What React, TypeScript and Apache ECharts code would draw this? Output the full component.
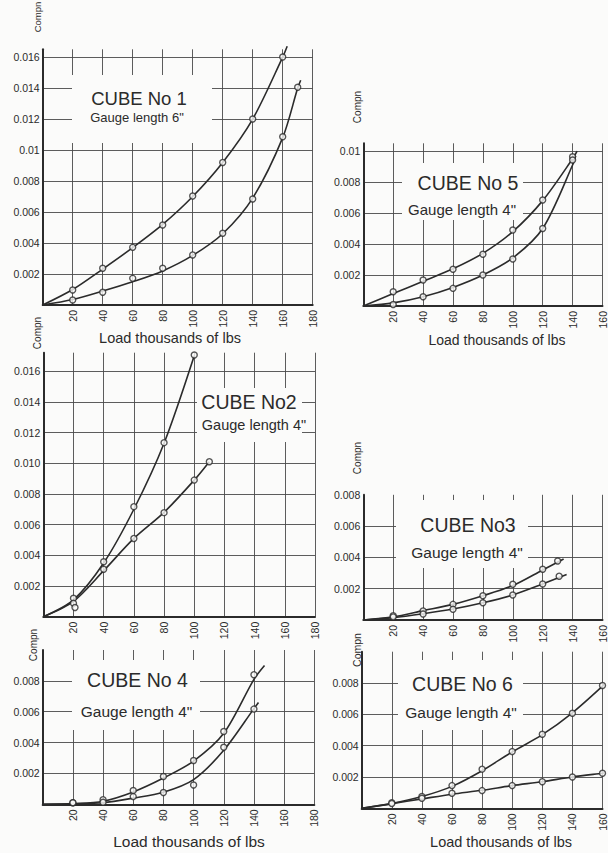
import React, { useEffect, useRef } from "react";
import * as echarts from "echarts";

// ---------- DATA (load in thousands of lbs, compression in inches) ----------
const xTickLabels = ["", "20", "40", "60", "80", "100", "120", "140", "160", "180"];

const cube1YLabels = ["", "0.002", "0.004", "0.006", "0.008", "0.01", "0.012", "0.014", "0.016"];
const cube2YLabels = ["", "0.002", "0.004", "0.006", "0.008", "0.010", "0.012", "0.014", "0.016"];
const cube5YLabels = ["", "0.002", "0.004", "0.006", "0.008", "0.01"];
const cube3YLabels = ["", "0.002", "0.004", "0.006", "0.008"];
const cube4YLabels = ["", "0.002", "0.004", "0.006", "0.008", ""];
const cube6YLabels = ["", "0.002", "0.004", "0.006", "0.008", ""];

// Cube No 1, gauge length 6"
const cube1UpperPts = [[20, 0.00097], [40, 0.00237], [60, 0.00372], [80, 0.00516], [100, 0.00703], [120, 0.0092], [140, 0.012], [160, 0.016]];
const cube1UpperCurve = [[0, 0], [20, 0.001], [40, 0.00232], [60, 0.0037], [80, 0.0052], [100, 0.007], [120, 0.0092], [140, 0.012], [160, 0.016], [163, 0.0167]];
const cube1LowerPts = [[20, 0.00032], [40, 0.00082], [60, 0.00172], [80, 0.00237], [100, 0.00323], [120, 0.00463], [140, 0.00684], [160, 0.01086], [170, 0.01405]];
const cube1LowerCurve = [[0, 0], [20, 0.00035], [40, 0.0009], [60, 0.0015], [80, 0.0022], [100, 0.0032], [120, 0.0046], [140, 0.0069], [160, 0.0108], [170, 0.014], [172, 0.0145]];

// Cube No 5, gauge length 4"
const cube5UpperPts = [[20, 0.00092], [40, 0.00168], [60, 0.00237], [80, 0.00334], [100, 0.0049], [120, 0.00684], [140, 0.00963]];
const cube5UpperCurve = [[0, 0], [20, 0.0008], [40, 0.0016], [60, 0.0024], [80, 0.0034], [100, 0.0048], [120, 0.0068], [140, 0.0095], [143, 0.01]];
const cube5LowerPts = [[20, 0.0001], [40, 0.0006], [60, 0.00114], [80, 0.002], [100, 0.00303], [120, 0.005], [140, 0.00942]];
const cube5LowerCurve = [[0, 0], [20, 0.0002], [40, 0.0006], [60, 0.0012], [80, 0.002], [100, 0.0031], [120, 0.005], [140, 0.0091], [142, 0.0097]];

// Cube No 2, gauge length 4"
const cube2UpperPts = [[20, 0.0012], [40, 0.00358], [60, 0.00717], [80, 0.01134], [100, 0.01705]];
const cube2UpperCurve = [[0, 0], [20, 0.0011], [40, 0.0035], [60, 0.007], [80, 0.0113], [100, 0.017]];
const cube2LowerPts = [[20, 0.00087], [21, 0.0006], [40, 0.00309], [60, 0.0051], [80, 0.00678], [100, 0.0089], [110, 0.0101]];
const cube2LowerCurve = [[0, 0], [20, 0.001], [40, 0.003], [60, 0.0051], [80, 0.0068], [100, 0.0089], [110, 0.0101]];

// Cube No 3, gauge length 4"
const cube3UpperPts = [[20, 0.00028], [40, 0.00058], [60, 0.001], [80, 0.00155], [100, 0.00228], [120, 0.00324], [130, 0.00377]];
const cube3UpperCurve = [[0, 0], [20, 0.0002], [40, 0.0006], [60, 0.001], [80, 0.00155], [100, 0.0022], [120, 0.0032], [134, 0.0039]];
const cube3LowerPts = [[20, 0.0002], [40, 0.00038], [60, 0.00068], [80, 0.0011], [100, 0.0016], [120, 0.0023], [131, 0.0028]];
const cube3LowerCurve = [[0, 0], [20, 0.00015], [40, 0.0004], [60, 0.0007], [80, 0.0011], [100, 0.0016], [120, 0.0023], [136, 0.0029]];

// Cube No 4, gauge length 4"
const cube4UpperPts = [[20, 0.0001], [40, 0.0003], [60, 0.00089], [80, 0.0018], [100, 0.00284], [120, 0.00472], [140, 0.0084]];
const cube4UpperCurve = [[0, 0], [20, 0.00005], [40, 0.0002], [60, 0.0008], [80, 0.0017], [100, 0.0028], [120, 0.0046], [140, 0.0081], [147, 0.009]];
const cube4LowerPts = [[20, 0.0001], [40, 0.00013], [60, 0.0005], [80, 0.00076], [100, 0.00125], [120, 0.0037], [140, 0.00617]];
const cube4LowerCurve = [[0, 0], [20, 0.00003], [40, 0.0001], [60, 0.0004], [80, 0.00078], [100, 0.0016], [120, 0.0035], [140, 0.0062], [143, 0.0066]];

// Cube No 6, gauge length 4"
const cube6UpperPts = [[20, 0.00036], [40, 0.00075], [60, 0.00145], [80, 0.0025], [100, 0.00362], [120, 0.00473], [140, 0.00607], [160, 0.00784]];
const cube6UpperCurve = [[0, 0], [20, 0.0003], [40, 0.00075], [60, 0.0014], [80, 0.0024], [100, 0.0036], [120, 0.0047], [140, 0.0061], [160, 0.0078], [165, 0.0083]];
const cube6LowerPts = [[20, 0.0003], [40, 0.00064], [60, 0.00096], [80, 0.00113], [100, 0.00145], [120, 0.0017], [140, 0.002], [160, 0.00224]];
const cube6LowerCurve = [[0, 0], [20, 0.0003], [40, 0.0006], [60, 0.0009], [80, 0.00115], [100, 0.00145], [120, 0.0017], [140, 0.002], [160, 0.00224], [165, 0.0023]];

const xTitle = "Load thousands of lbs";
const yTitle = "Compn";

// ---------- STYLE / LAYOUT ----------
const BG = "#fbfbfa";
const INK = "#2b2b2b";
const FONT = "Liberation Sans, Arial, sans-serif";

type Panel = {
  grid: { left: number; top: number; width: number; height: number };
  xMax: number;
  yMax: number;
  yLabels: string[];
  curves: number[][][];
  points: number[][][];
  title: string;
  gauge: string;
  box: [number, number, number, number];
  titlePos: [number, number, number];
  gaugePos: [number, number, number];
  yTitlePos: [number, number, number];
  xTitlePos?: [number, number, number];
};

const panels: Panel[] = [
  {
    grid: { left: 42.7, top: 49.3, width: 270, height: 255.7 },
    xMax: 180, yMax: 0.0165, yLabels: cube1YLabels,
    curves: [cube1UpperCurve, cube1LowerCurve], points: [cube1UpperPts, cube1LowerPts],
    title: "CUBE No 1", gauge: "Gauge length 6\"",
    box: [72, 75, 140, 68], titlePos: [139, 98, 18.5], gaugePos: [137, 117, 13],
    yTitlePos: [37, 17, 9.5], xTitlePos: [170, 338, 14.5],
  },
  {
    grid: { left: 363.3, top: 143.3, width: 245.6, height: 162.7 },
    xMax: 160, yMax: 0.0105, yLabels: cube5YLabels,
    curves: [cube5UpperCurve, cube5LowerCurve], points: [cube5UpperPts, cube5LowerPts],
    title: "CUBE No 5", gauge: "Gauge length 4\"",
    box: [402, 163, 121, 57], titlePos: [468, 183, 19.5], gaugePos: [462, 209, 15],
    yTitlePos: [357, 107, 10], xTitlePos: [497, 340, 14],
  },
  {
    grid: { left: 43.3, top: 352.7, width: 271.7, height: 264 },
    xMax: 180, yMax: 0.0172, yLabels: cube2YLabels,
    curves: [cube2UpperCurve, cube2LowerCurve], points: [cube2UpperPts, cube2LowerPts],
    title: "CUBE No2", gauge: "Gauge length 4\"",
    box: [197, 388, 105, 54], titlePos: [249, 402, 19.5], gaugePos: [254, 425, 14.5],
    yTitlePos: [37, 333, 10],
  },
  {
    grid: { left: 363.3, top: 494.8, width: 244, height: 125.2 },
    xMax: 160, yMax: 0.008, yLabels: cube3YLabels,
    curves: [cube3UpperCurve, cube3LowerCurve], points: [cube3UpperPts, cube3LowerPts],
    title: "CUBE No3", gauge: "Gauge length 4\"",
    box: [396, 500, 132, 68], titlePos: [468, 525, 19.5], gaugePos: [467, 552, 15.5],
    yTitlePos: [357, 458, 10],
  },
  {
    grid: { left: 42.7, top: 650, width: 271.6, height: 154.3 },
    xMax: 180, yMax: 0.01, yLabels: cube4YLabels,
    curves: [cube4UpperCurve, cube4LowerCurve], points: [cube4UpperPts, cube4LowerPts],
    title: "CUBE No 4", gauge: "Gauge length 4\"",
    box: [72, 660, 128, 70], titlePos: [137.5, 680, 19.5], gaugePos: [136.5, 711, 15.5],
    yTitlePos: [33, 645, 10], xTitlePos: [189, 841, 15.5],
  },
  {
    grid: { left: 361.7, top: 651.7, width: 245, height: 156.6 },
    xMax: 160, yMax: 0.01, yLabels: cube6YLabels,
    curves: [cube6UpperCurve, cube6LowerCurve], points: [cube6UpperPts, cube6LowerPts],
    title: "CUBE No 6", gauge: "Gauge length 4\"",
    box: [398, 660, 125, 70], titlePos: [462.5, 684, 19.5], gaugePos: [461, 712, 15.5],
    yTitlePos: [357, 650, 10.5], xTitlePos: [501, 842, 14.5],
  },
];

function textEl(text: string, x: number, y: number, size: number, rotation = 0) {
  return {
    type: "text",
    x, y, rotation, z: 101, silent: true,
    style: {
      text, fontSize: size, fontFamily: FONT, fill: INK,
      align: "center", verticalAlign: "middle",
      textAlign: "center", textVerticalAlign: "middle",
    },
  };
}

function buildOption() {
  const grid: any[] = [];
  const xAxis: any[] = [];
  const yAxis: any[] = [];
  const series: any[] = [];
  const graphic: any[] = [];

  panels.forEach((p, i) => {
    grid.push({ ...p.grid, containLabel: false });
    xAxis.push({
      type: "value", gridIndex: i, min: 0, max: p.xMax, interval: 20,
      axisLine: { show: true, onZero: false, lineStyle: { color: INK, width: 2 } },
      axisTick: { show: false },
      splitLine: { show: true, lineStyle: { color: "#4a4a4a", width: 0.9 } },
      axisLabel: {
        rotate: 90, margin: 5, fontSize: 10.5, fontFamily: FONT, color: INK,
        showMinLabel: false, hideOverlap: false,
        formatter: (v: number) => {
          const k = v / 20;
          return Math.abs(k - Math.round(k)) < 1e-6 ? xTickLabels[Math.round(k)] ?? "" : "";
        },
      },
    });
    yAxis.push({
      type: "value", gridIndex: i, min: 0, max: p.yMax, interval: 0.002,
      axisLine: { show: true, onZero: false, lineStyle: { color: INK, width: 2 } },
      axisTick: { show: false },
      splitLine: { show: true, showMaxLine: false, lineStyle: { color: "#4a4a4a", width: 0.9 } },
      axisLabel: {
        margin: 3, fontSize: 10.5, fontFamily: FONT, color: INK, showMaxLabel: true,
        formatter: (v: number) => {
          const k = v / 0.002;
          return Math.abs(k - Math.round(k)) < 1e-6 ? p.yLabels[Math.round(k)] ?? "" : "";
        },
      },
    });
    p.curves.forEach((c, j) => {
      series.push({
        type: "line", name: `${p.title} curve ${j + 1}`, xAxisIndex: i, yAxisIndex: i,
        data: c, smooth: 0.3, showSymbol: false, clip: false,
        lineStyle: { color: INK, width: 1.6 }, z: 3,
      });
    });
    p.points.forEach((pts, j) => {
      series.push({
        type: "scatter", name: `${p.title} readings ${j + 1}`, xAxisIndex: i, yAxisIndex: i,
        data: pts, symbol: "circle", symbolSize: 6, clip: false,
        itemStyle: { color: BG, borderColor: INK, borderWidth: 1.4 }, z: 4,
      });
    });
    const [bx, by, bw, bh] = p.box;
    graphic.push({ type: "rect", z: 100, silent: true, shape: { x: bx, y: by, width: bw, height: bh }, style: { fill: BG } });
    graphic.push(textEl(p.title, p.titlePos[0], p.titlePos[1], p.titlePos[2]));
    graphic.push(textEl(p.gauge, p.gaugePos[0], p.gaugePos[1], p.gaugePos[2]));
    graphic.push(textEl(yTitle, p.yTitlePos[0], p.yTitlePos[1], p.yTitlePos[2], Math.PI / 2));
    if (p.xTitlePos) graphic.push(textEl(xTitle, p.xTitlePos[0], p.xTitlePos[1], p.xTitlePos[2]));
  });

  return {
    animation: false,
    backgroundColor: BG,
    grid, xAxis, yAxis, series, graphic,
  };
}

export default function App() {
  const ref = useRef<HTMLDivElement>(null);
  useEffect(() => {
    if (!ref.current) return;
    const chart = echarts.init(ref.current, undefined, { renderer: "svg" });
    chart.setOption(buildOption() as any);
    return () => chart.dispose();
  }, []);
  return (
    <div
      ref={ref}
      style={{ position: "fixed", left: 0, top: 0, width: 608, height: 853, background: BG }}
    />
  );
}
